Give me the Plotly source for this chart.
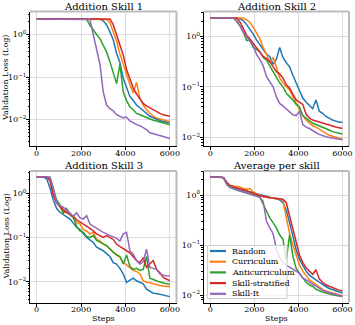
import plotly.graph_objects as go
from plotly.subplots import make_subplots

steps = [0, 150, 300, 450, 600, 750, 900, 1050, 1200, 1350, 1500, 1650, 1800, 1950,
         2100, 2250, 2400, 2550, 2700, 2850, 3000, 3150, 3300, 3450, 3600, 3750,
         3900, 4050, 4200, 4350, 4500, 4650, 4800, 4950, 5100, 5250, 5400, 5550,
         5700, 5850, 6000]

methods = ["Random", "Curriculum", "Anticurriculum", "Skill-stratified", "Skill-It"]
colors = ["#1f77b4", "#ff7f0e", "#2ca02c", "#d62728", "#9467bd"]
titles = ["Addition Skill 1", "Addition Skill 2", "Addition Skill 3", "Average per skill"]
x_ticks = [0, 2000, 4000, 6000]
y_ticks = [0.01, 0.1, 1]
y_tick_text = ["10<sup>−2</sup>", "10<sup>−1</sup>", "10<sup>0</sup>"]

# ---- Addition Skill 1 ----
s1_random = [2.3, 2.3, 2.3, 2.3, 2.3, 2.3, 2.3, 2.3, 2.3, 2.3, 2.3, 2.3, 2.3, 2.3,
             2.3, 2.3, 2.3, 2.3, 2.3, 2.28, 2.1, 1.7, 1.15, 0.75, 0.36, 0.22,
             0.094, 0.055, 0.035, 0.028, 0.022, 0.019, 0.016, 0.014, 0.012, 0.011, 0.0102, 0.0095,
             0.009, 0.0087, 0.0084]
s1_curric = [2.3, 2.3, 2.3, 2.3, 2.3, 2.3, 2.3, 2.3, 2.3, 2.3, 2.3, 2.3, 2.3, 2.3,
             2.3, 2.3, 2.3, 2.3, 2.3, 2.3, 2.3, 2.25, 1.9, 1.2, 0.7, 0.35,
             0.2, 0.11, 0.066, 0.042, 0.075, 0.032, 0.022, 0.017, 0.014, 0.012, 0.011, 0.0105,
             0.0098, 0.0093, 0.0089]
s1_anti = [2.3, 2.3, 2.3, 2.3, 2.3, 2.3, 2.3, 2.3, 2.3, 2.3, 2.3, 2.3, 2.3, 2.3,
           2.3, 2.28, 1.65, 1.25, 1.0, 0.8, 0.56, 0.39, 0.23, 0.12, 0.07, 0.2,
           0.045, 0.028, 0.02, 0.017, 0.014, 0.013, 0.012, 0.011, 0.0102, 0.0097, 0.0093, 0.0088,
           0.0082, 0.0078, 0.0076]
s1_strat = [2.3, 2.3, 2.3, 2.3, 2.3, 2.3, 2.3, 2.3, 2.3, 2.3, 2.3, 2.3, 2.3, 2.3,
            2.3, 2.3, 2.3, 2.3, 2.3, 2.3, 2.3, 2.3, 2.3, 1.7, 1.0, 0.56,
            0.33, 0.15, 0.094, 0.055, 0.04, 0.03, 0.024, 0.021, 0.019, 0.017, 0.015, 0.014,
            0.013, 0.0125, 0.012]
s1_skillit = [2.3, 2.3, 2.3, 2.3, 2.3, 2.3, 2.3, 2.3, 2.3, 2.3, 2.3, 2.3, 2.3, 2.3,
              2.3, 2.3, 2.25, 1.0, 0.43, 0.2, 0.045, 0.022, 0.018, 0.016, 0.013, 0.012,
              0.011, 0.0115, 0.0093, 0.0085, 0.0076, 0.0072, 0.0064, 0.0058, 0.0049, 0.0047, 0.0045, 0.0042,
              0.004, 0.0038, 0.0036]

# ---- Addition Skill 2 ----
s2_random = [2.3, 2.3, 2.3, 2.3, 2.3, 2.3, 2.3, 2.3, 2.3, 2.2, 2.05, 1.7, 1.4, 1.1,
             0.85, 0.7, 0.55, 0.44, 0.4, 0.28, 0.35, 0.6, 0.38, 0.3, 0.25, 0.17,
             0.12, 0.08, 0.06, 0.05, 0.043, 0.037, 0.055, 0.033, 0.03, 0.026, 0.024, 0.022,
             0.021, 0.02, 0.02]
s2_curric = [2.3, 2.3, 2.3, 2.3, 2.3, 2.3, 2.3, 2.3, 2.3, 2.3, 2.3, 2.1, 1.9, 1.5,
             1.15, 0.9, 0.6, 0.45, 0.3, 0.38, 0.25, 0.15, 0.12, 0.1, 0.087, 0.064,
             0.047, 0.037, 0.027, 0.022, 0.019, 0.017, 0.016, 0.0145, 0.013, 0.012, 0.011, 0.0105,
             0.01, 0.0095, 0.0093]
s2_anti = [2.3, 2.3, 2.3, 2.3, 2.3, 2.3, 2.3, 2.3, 2.0, 1.6, 1.2, 0.82, 0.85, 0.6,
           0.55, 0.5, 0.38, 0.34, 0.26, 0.2, 0.15, 0.12, 0.1, 0.075, 0.064, 0.055,
           0.045, 0.04, 0.027, 0.024, 0.021, 0.019, 0.018, 0.017, 0.016, 0.015, 0.014, 0.013,
           0.0125, 0.012, 0.0117]
s2_strat = [2.3, 2.3, 2.3, 2.3, 2.3, 2.3, 2.3, 2.3, 2.3, 1.9, 1.4, 1.05, 0.88, 0.72,
            0.6, 0.5, 0.4, 0.36, 0.32, 0.25, 0.2, 0.18, 0.15, 0.11, 0.095, 0.072,
            0.055, 0.05, 0.045, 0.029, 0.024, 0.022, 0.021, 0.02, 0.019, 0.018, 0.017, 0.0165,
            0.016, 0.0155, 0.015]
s2_skillit = [2.3, 2.3, 2.3, 2.3, 2.3, 2.3, 2.3, 2.3, 1.95, 1.6, 1.2, 0.95, 0.8, 0.65,
              0.44, 0.35, 0.26, 0.16, 0.13, 0.1, 0.064, 0.047, 0.042, 0.037, 0.032, 0.028,
              0.027, 0.033, 0.018, 0.016, 0.015, 0.0135, 0.0125, 0.0115, 0.0108, 0.0103, 0.01, 0.0097,
              0.0094, 0.0092, 0.009]

# ---- Addition Skill 3 ----
s3_random = [2.3, 2.3, 2.3, 2.1, 1.3, 0.7, 0.45, 0.37, 0.33, 0.3, 0.26, 0.21, 0.17, 0.15,
             0.12, 0.1, 0.088, 0.077, 0.06, 0.055, 0.05, 0.043, 0.037, 0.027, 0.025, 0.02,
             0.015, 0.0097, 0.011, 0.012, 0.0105, 0.0095, 0.0089, 0.0068, 0.006, 0.0055, 0.0054, 0.0052,
             0.005, 0.0047, 0.0046]
s3_curric = [2.3, 2.3, 2.3, 2.3, 2.1, 1.1, 0.6, 0.48, 0.36, 0.38, 0.32, 0.29, 0.22, 0.2,
             0.15, 0.14, 0.12, 0.13, 0.09, 0.084, 0.07, 0.065, 0.055, 0.046, 0.04, 0.036,
             0.027, 0.024, 0.021, 0.018, 0.017, 0.015, 0.0105, 0.0097, 0.0095, 0.009, 0.0085, 0.0082,
             0.008, 0.0078, 0.0077]
s3_anti = [2.3, 2.3, 2.3, 2.3, 2.2, 1.2, 0.7, 0.55, 0.36, 0.45, 0.33, 0.28, 0.18, 0.14,
           0.13, 0.105, 0.1, 0.11, 0.085, 0.078, 0.07, 0.065, 0.055, 0.046, 0.041, 0.037,
           0.025, 0.04, 0.022, 0.019, 0.02, 0.018, 0.019, 0.037, 0.012, 0.011, 0.0105, 0.0098,
           0.0092, 0.009, 0.0088]
s3_strat = [2.3, 2.3, 2.3, 2.3, 1.9, 0.9, 0.6, 0.5, 0.42, 0.36, 0.34, 0.3, 0.25, 0.22,
            0.2, 0.18, 0.16, 0.14, 0.12, 0.11, 0.1, 0.11, 0.1, 0.09, 0.07, 0.062,
            0.054, 0.05, 0.045, 0.037, 0.03, 0.027, 0.035, 0.021, 0.025, 0.03, 0.019, 0.016,
            0.0125, 0.0112, 0.0105]
s3_skillit = [2.3, 2.3, 2.3, 2.3, 2.3, 1.3, 0.6, 0.52, 0.48, 0.42, 0.36, 0.3, 0.36, 0.28,
              0.26, 0.31, 0.2, 0.18, 0.16, 0.14, 0.13, 0.12, 0.11, 0.1, 0.095, 0.083,
              0.12, 0.13, 0.05, 0.042, 0.03, 0.025, 0.028, 0.054, 0.021, 0.02, 0.019, 0.015,
              0.014, 0.0137, 0.0135]

# ---- Average per skill ----
s4_random = [2.3, 2.3, 2.3, 2.3, 2.2, 1.75, 1.5, 1.4, 1.35, 1.3, 1.25, 1.2, 1.15, 1.1,
             1.05, 1.0, 0.97, 0.95, 0.9, 0.88, 0.85, 0.8, 0.7, 0.5, 0.28, 0.15,
             0.08, 0.052, 0.038, 0.03, 0.025, 0.022, 0.02, 0.018, 0.016, 0.0148, 0.0135, 0.0128,
             0.012, 0.0115, 0.011]
s4_curric = [2.3, 2.3, 2.3, 2.3, 2.2, 1.7, 1.55, 1.5, 1.45, 1.45, 1.35, 1.3, 1.35, 1.15,
             1.05, 0.97, 0.92, 0.9, 0.88, 0.85, 0.84, 0.83, 0.78, 0.35, 0.17, 0.1,
             0.06, 0.04, 0.03, 0.024, 0.02, 0.018, 0.016, 0.014, 0.013, 0.012, 0.0115, 0.011,
             0.0103, 0.01, 0.0097]
s4_anti = [2.3, 2.3, 2.3, 2.3, 2.2, 1.6, 1.4, 1.3, 1.25, 1.2, 1.15, 1.1, 1.05, 1.0,
           0.98, 0.9, 0.65, 0.47, 0.35, 0.28, 0.22, 0.16, 0.13, 0.05, 0.16, 0.06,
           0.034, 0.027, 0.022, 0.018, 0.016, 0.015, 0.013, 0.012, 0.0115, 0.011, 0.0105, 0.01,
           0.0098, 0.0096, 0.0095]
s4_strat = [2.3, 2.3, 2.3, 2.3, 2.25, 1.8, 1.55, 1.45, 1.4, 1.35, 1.28, 1.22, 1.15, 1.1,
            1.03, 0.97, 0.93, 0.9, 0.88, 0.87, 0.86, 0.85, 0.82, 0.7, 0.38, 0.2,
            0.11, 0.063, 0.045, 0.035, 0.03, 0.026, 0.032, 0.021, 0.018, 0.016, 0.015, 0.014,
            0.013, 0.0125, 0.012]
s4_skillit = [2.3, 2.3, 2.3, 2.3, 2.2, 1.65, 1.45, 1.35, 1.25, 1.2, 1.15, 1.1, 1.05, 1.0,
              0.95, 0.9, 0.75, 0.3, 0.22, 0.17, 0.085, 0.055, 0.045, 0.039, 0.036, 0.033,
              0.03, 0.027, 0.022, 0.02, 0.018, 0.016, 0.015, 0.0135, 0.0125, 0.0115, 0.011, 0.0105,
              0.01, 0.0097, 0.0094]

panels = [
    [s1_random, s1_curric, s1_anti, s1_strat, s1_skillit],
    [s2_random, s2_curric, s2_anti, s2_strat, s2_skillit],
    [s3_random, s3_curric, s3_anti, s3_strat, s3_skillit],
    [s4_random, s4_curric, s4_anti, s4_strat, s4_skillit],
]
y_ranges = [[-2.62, 0.54], [-2.17, 0.49], [-2.47, 0.50], [-2.15, 0.48]]

# figure fills the whole window (body margin removed in the page, see write_html)
W, H = 355, 325


def px_x(v):
    return v / W


def px_y(v):
    return 1 - v / H


xdom = [[px_x(30), px_x(176.5)], [px_x(203.7), px_x(349)]]
ydom = [[px_y(146), px_y(11.5)], [px_y(302.5), px_y(171)]]
title_y = [6.5, 165.5]
ylabel_y = [78.5, 237]

FONT = "DejaVu Serif"
fig = make_subplots(rows=2, cols=2)

for p, series in enumerate(panels):
    r, c = p // 2 + 1, p % 2 + 1
    for m, vals in enumerate(series):
        fig.add_trace(go.Scatter(x=steps, y=vals, mode="lines", name=methods[m],
                                 line=dict(color=colors[m], width=1.5),
                                 showlegend=False), row=r, col=c)

minor_vals = [k * 10 ** e for e in (-3, -2, -1, 0) for k in range(2, 10)]

for p in range(4):
    r, c = p // 2, p % 2
    xa = "xaxis" if p == 0 else f"xaxis{p + 1}"
    ya = "yaxis" if p == 0 else f"yaxis{p + 1}"
    fig.layout[xa].update(domain=xdom[c], range=[-300, 6300], automargin=False,
                          tickvals=x_ticks, ticktext=[str(v) for v in x_ticks],
                          showline=True, linecolor="black", linewidth=1,
                          ticks="outside", ticklen=3, tickcolor="black",
                          ticklabelstandoff=-4,
                          showgrid=True, gridcolor="#dcdcdc", gridwidth=1,
                          zeroline=False, tickfont=dict(family=FONT, size=8, color="black"))
    fig.layout[ya].update(domain=ydom[r], type="log", range=y_ranges[p], automargin=False,
                          tickvals=y_ticks, ticktext=y_tick_text,
                          showline=True, linecolor="black", linewidth=1,
                          ticks="outside", ticklen=3, tickcolor="black",
                          ticklabelstandoff=-2,
                          minor=dict(tickvals=minor_vals, ticks="outside", ticklen=1.5,
                                     tickcolor="black", showgrid=False),
                          showgrid=True, gridcolor="#dcdcdc", gridwidth=1,
                          zeroline=False, tickfont=dict(family=FONT, size=8, color="black"))
    xref = "x" if p == 0 else f"x{p + 1}"
    yref = "y" if p == 0 else f"y{p + 1}"
    # top and right frame (gray)
    fig.add_shape(type="line", xref=f"{xref} domain", yref=f"{yref} domain",
                  x0=0, x1=1, y0=1, y1=1, line=dict(color="#bbbbbb", width=2))
    fig.add_shape(type="line", xref=f"{xref} domain", yref=f"{yref} domain",
                  x0=1, x1=1, y0=0, y1=1, line=dict(color="#bbbbbb", width=2))
    fig.add_annotation(text=titles[p], xref="paper", yref="paper",
                       x=(xdom[c][0] + xdom[c][1]) / 2, y=px_y(title_y[r]),
                       xanchor="center", yanchor="middle", showarrow=False,
                       font=dict(family=FONT, size=10, color="black"))
    if c == 0:
        fig.add_annotation(text="Validation Loss (Log)", xref="paper", yref="paper",
                           x=px_x(5.5), y=px_y(ylabel_y[r]), textangle=-90,
                           xanchor="center", yanchor="middle", showarrow=False,
                           font=dict(family=FONT, size=8, color="black"))
    if r == 1:
        fig.add_annotation(text="Steps", xref="paper", yref="paper",
                           x=(xdom[c][0] + xdom[c][1]) / 2, y=px_y(318.5),
                           xanchor="center", yanchor="middle", showarrow=False,
                           font=dict(family=FONT, size=8, color="black"))

# compact legend drawn inside the "Average per skill" panel
fig.add_shape(type="rect", xref="paper", yref="paper",
              x0=px_x(207.5), x1=px_x(287), y0=px_y(298.5), y1=px_y(245.5),
              fillcolor="rgba(255,255,255,0.8)", line=dict(color="#cccccc", width=1),
              layer="above")
row_y = [251, 261.7, 272.4, 283.1, 293.8]
for m, name in enumerate(methods):
    fig.add_shape(type="line", xref="paper", yref="paper",
                  x0=px_x(210), x1=px_x(226), y0=px_y(row_y[m]), y1=px_y(row_y[m]),
                  line=dict(color=colors[m], width=2.2), layer="above")
    fig.add_annotation(text=name, xref="paper", yref="paper",
                       x=px_x(230), y=px_y(row_y[m]), xanchor="left", yanchor="middle",
                       showarrow=False, font=dict(family=FONT, size=8, color="black"))

fig.update_layout(
    width=W, height=H,
    margin=dict(l=0, r=0, t=0, b=0),
    paper_bgcolor="white", plot_bgcolor="white",
    showlegend=False,
)

fig.write_html("out.html",
               config={"displayModeBar": False},
               post_script="document.body.style.margin='0px';"
                           "document.body.style.padding='0px';"
                           "document.body.style.overflow='hidden';")
